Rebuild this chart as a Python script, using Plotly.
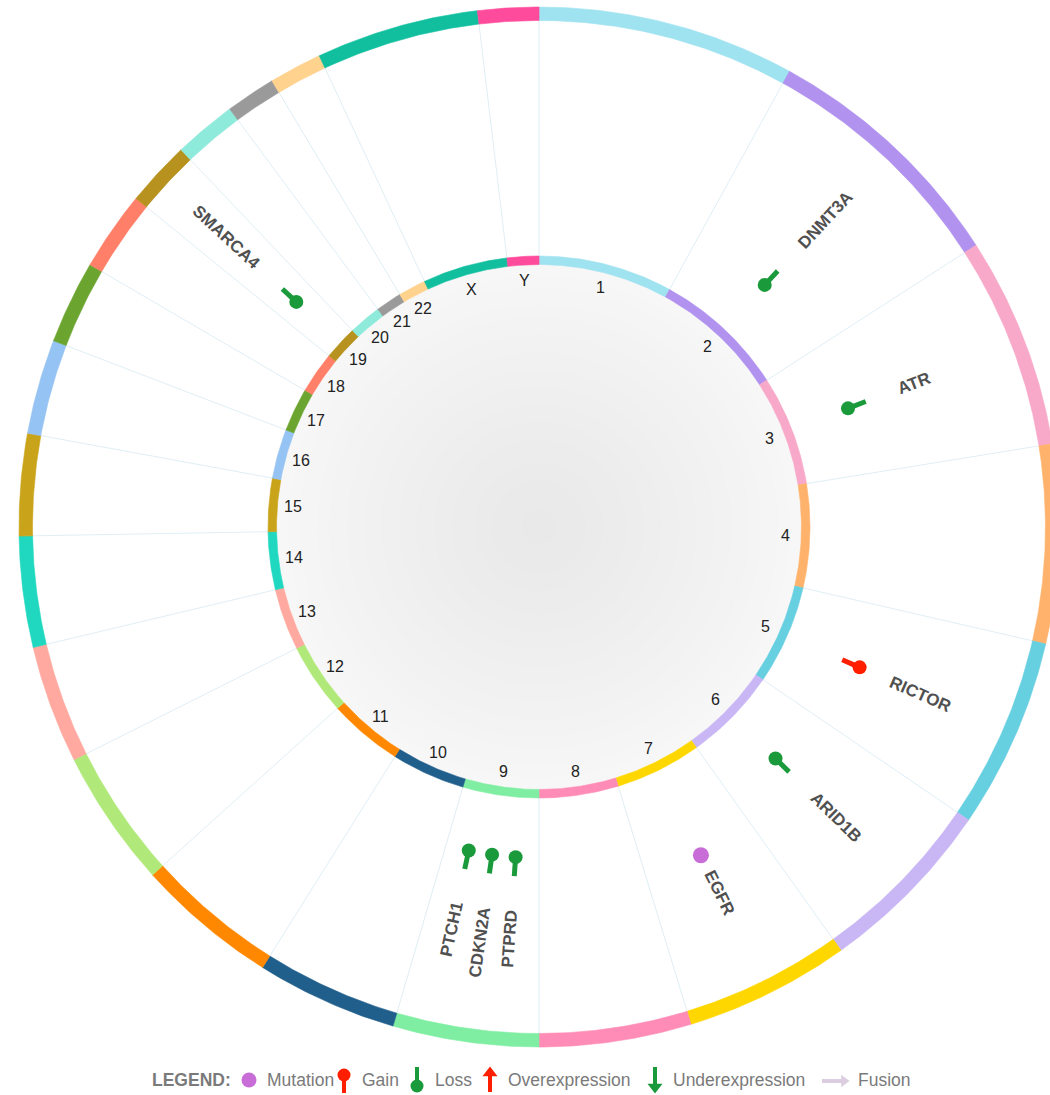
import math
import plotly.graph_objects as go

# ---- genome: chromosome sizes (Mb) ----
chromosomes = ["1", "2", "3", "4", "5", "6", "7", "8", "9", "10", "11", "12",
               "13", "14", "15", "16", "17", "18", "19", "20", "21", "22", "X", "Y"]
chrom_length_mb = [247.6, 244.2, 202.9, 190.9, 183.2, 173.7, 159.1, 146.2,
                   140.2, 135.9, 136.7, 132.4, 113.5, 106.6, 98.0, 91.1,
                   80.0, 76.5, 62.8, 60.2, 48.2, 50.7, 156.5, 58.5]
chrom_colors = ["#9fe2f0", "#b192ef", "#f8a8c8", "#ffb26b", "#66cfe0", "#c9b7f5",
                "#ffd700", "#ff8cb6", "#80eea2", "#205e8c", "#ff8800", "#b0e979",
                "#ffa9a0", "#20d8bf", "#c9a41b", "#95c3f3", "#6ba530", "#ff7f68",
                "#b8921f", "#8eeada", "#9a9a9a", "#ffd28e", "#11bf9f", "#ff4b9b"]

# ---- altered genes ----
genes = ["DNMT3A", "ATR", "RICTOR", "ARID1B", "EGFR", "PTPRD", "CDKN2A", "PTCH1", "SMARCA4"]
gene_chrom = ["2", "3", "5", "6", "7", "9", "9", "9", "19"]
gene_pos_mb = [25.5, 142.2, 38.9, 157.1, 55.1, 8.3, 21.9, 98.2, 11.1]
gene_alteration = ["Loss", "Loss", "Gain", "Loss", "Mutation", "Loss", "Loss", "Loss", "Loss"]

alteration_colors = {"Mutation": "#c86dd7", "Gain": "#ff1f00", "Loss": "#1b9a3c",
                     "Overexpression": "#ff1f00", "Underexpression": "#1b9a3c",
                     "Fusion": "#dccde0"}
legend_items = ["Mutation", "Gain", "Loss", "Overexpression", "Underexpression", "Fusion"]

# ---- geometry (px, centre of the circle at CX, CY) ----
W, H = 1050, 1095
CX, CY = 539, 527
OUTER = (506.5, 520.0)
INNER = (262.5, 271.0)
CHR_LABEL_R = 247
STICK = (331, 350)
MUT_R = 366
GENE_LABEL_R = 384
SPREAD_DEG = 4.1


def pol(r, deg):
    a = math.radians(deg)
    return r * math.sin(a), r * math.cos(a)


def px(x, y):
    """screen pixel -> data coords"""
    return x - CX, CY - y


total = sum(chrom_length_mb)
starts, ends = [], []
acc = 0.0
for L in chrom_length_mb:
    starts.append(acc / total * 360)
    acc += L
    ends.append(acc / total * 360)
mids = {c: (s + e) / 2 for c, s, e in zip(chromosomes, starts, ends)}

fig = go.Figure()

# ---- shaded centre disc ----
shapes = []
n_disc = 45
for i in range(n_disc):
    r = INNER[0] * (1 - i / n_disc)
    t = r / INNER[0]
    g = int(round(233 + 14 * t ** 1.3))
    shapes.append(dict(type="circle", xref="x", yref="y", x0=-r, x1=r, y0=-r, y1=r,
                       fillcolor=f"rgb({g},{g},{g})", line=dict(width=0), layer="below"))

# ---- radial separators between chromosomes ----
sx, sy = [], []
for s in starts:
    x0, y0 = pol(INNER[1], s)
    x1, y1 = pol(OUTER[0], s)
    sx += [x0, x1, None]
    sy += [y0, y1, None]
fig.add_trace(go.Scatter(x=sx, y=sy, mode="lines", line=dict(color="#e0eef5", width=1),
                         hoverinfo="skip"))


# ---- chromosome rings ----
def band(r0, r1, a0, a1):
    n = max(6, int((a1 - a0) * 3))
    angs = [a0 + (a1 - a0) * k / n for k in range(n + 1)]
    xs = [pol(r1, a)[0] for a in angs] + [pol(r0, a)[0] for a in reversed(angs)]
    ys = [pol(r1, a)[1] for a in angs] + [pol(r0, a)[1] for a in reversed(angs)]
    return xs + [xs[0]], ys + [ys[0]]


for c, s, e, col in zip(chromosomes, starts, ends, chrom_colors):
    for r0, r1 in (OUTER, INNER):
        xs, ys = band(r0, r1, s, e)
        fig.add_trace(go.Scatter(x=xs, y=ys, mode="lines", fill="toself", fillcolor=col,
                                 line=dict(color=col, width=0.6), hoverinfo="skip"))

annotations = []
for c in chromosomes:
    x, y = pol(CHR_LABEL_R, mids[c])
    annotations.append(dict(x=x, y=y, text=c, showarrow=False, xanchor="center",
                            yanchor="middle",
                            font=dict(family="Liberation Sans, Arial", size=16, color="#222222")))

# ---- gene angles: chromosome midpoint, spread when several share a chromosome ----
gene_angle = {}
for c in set(gene_chrom):
    members = sorted([i for i, gc in enumerate(gene_chrom) if gc == c], key=lambda i: gene_pos_mb[i])
    n = len(members)
    for k, i in enumerate(members):
        gene_angle[i] = mids[c] + (k - (n - 1) / 2) * SPREAD_DEG

BOLD_W = {"A": .722, "B": .722, "C": .722, "D": .722, "E": .667, "F": .611, "G": .778,
          "H": .722, "I": .278, "K": .722, "M": .833, "N": .722, "O": .778, "P": .667,
          "R": .722, "S": .667, "T": .611}
LABEL_SIZE = 17


def text_len(t):
    return sum(BOLD_W.get(ch, .556) for ch in t) * LABEL_SIZE


stick_x = {"Gain": [], "Loss": []}
stick_y = {"Gain": [], "Loss": []}
dot_x = {k: [] for k in ("Gain", "Loss", "Mutation")}
dot_y = {k: [] for k in ("Gain", "Loss", "Mutation")}

for i, g in enumerate(genes):
    a = gene_angle[i]
    kind = gene_alteration[i]
    if kind == "Mutation":
        x, y = pol(MUT_R, a)
        dot_x[kind].append(x)
        dot_y[kind].append(y)
    else:
        x0, y0 = pol(STICK[0], a)
        x1, y1 = pol(STICK[1], a)
        stick_x[kind] += [x0, x1, None]
        stick_y[kind] += [y0, y1, None]
        dx, dy = (x0, y0) if kind == "Loss" else (x1, y1)
        dot_x[kind].append(dx)
        dot_y[kind].append(dy)
    rc = GENE_LABEL_R + text_len(g) / 2
    lx, ly = pol(rc, a)
    ang = a - 90 if a < 180 else a - 270
    annotations.append(dict(x=lx, y=ly, text=g, showarrow=False, textangle=ang,
                            xanchor="center", yanchor="middle",
                            font=dict(family="Liberation Sans, Arial", size=LABEL_SIZE,
                                      color="#505050", weight="bold")))

for kind in ("Gain", "Loss"):
    fig.add_trace(go.Scatter(x=stick_x[kind], y=stick_y[kind], mode="lines",
                             line=dict(color=alteration_colors[kind], width=5), hoverinfo="skip"))
for kind, size in (("Gain", 14), ("Loss", 14), ("Mutation", 16)):
    fig.add_trace(go.Scatter(x=dot_x[kind], y=dot_y[kind], mode="markers",
                             marker=dict(color=alteration_colors[kind], size=size, line=dict(width=0)),
                             hoverinfo="skip"))

# ---- legend row ----
LEG_Y = 1080
leg_font = dict(family="Liberation Sans, Arial", size=17.5, color="#7a7a7a")
x, y = px(150, LEG_Y)
annotations.append(dict(x=x, y=y, text="<b>LEGEND:</b>", showarrow=False, xanchor="left",
                        yanchor="middle", font=leg_font))
icon_x = [249, 344, 417, 490, 655, 836]
text_x = [265, 360, 433, 506, 671, 856]
for item, ix, tx in zip(legend_items, icon_x, text_x):
    col = alteration_colors[item]
    if item == "Mutation":
        cx, cy = px(ix, LEG_Y)
        fig.add_trace(go.Scatter(x=[cx], y=[cy], mode="markers",
                                 marker=dict(color=col, size=15, line=dict(width=0)), hoverinfo="skip"))
    elif item in ("Gain", "Loss"):
        top, bot = (1075, 1093) if item == "Gain" else (1067, 1086)
        head = top if item == "Gain" else bot
        xs, ys = zip(px(ix, top), px(ix, bot))
        fig.add_trace(go.Scatter(x=list(xs), y=list(ys), mode="lines",
                                 line=dict(color=col, width=4), hoverinfo="skip"))
        hx, hy = px(ix, head)
        fig.add_trace(go.Scatter(x=[hx], y=[hy], mode="markers",
                                 marker=dict(color=col, size=13, line=dict(width=0)), hoverinfo="skip"))
    elif item in ("Overexpression", "Underexpression"):
        up = item == "Overexpression"
        tail, tip = (1092, 1074) if up else (1067, 1085)
        xs, ys = zip(px(ix, tail), px(ix, tip))
        fig.add_trace(go.Scatter(x=list(xs), y=list(ys), mode="lines",
                                 line=dict(color=col, width=4), hoverinfo="skip"))
        hx, hy = px(ix, 1073 if up else 1087)
        fig.add_trace(go.Scatter(x=[hx], y=[hy], mode="markers",
                                 marker=dict(color=col, size=13, line=dict(width=0),
                                             symbol="triangle-up" if up else "triangle-down"),
                                 hoverinfo="skip"))
    else:
        xs, ys = zip(px(ix - 14, LEG_Y + 1), px(ix + 6, LEG_Y + 1))
        fig.add_trace(go.Scatter(x=list(xs), y=list(ys), mode="lines",
                                 line=dict(color=col, width=4), hoverinfo="skip"))
        hx, hy = px(ix + 8, LEG_Y + 1)
        fig.add_trace(go.Scatter(x=[hx], y=[hy], mode="markers",
                                 marker=dict(color=col, size=11, line=dict(width=0),
                                             symbol="triangle-right"), hoverinfo="skip"))
    tx_, ty_ = px(tx, LEG_Y)
    annotations.append(dict(x=tx_, y=ty_, text=item, showarrow=False, xanchor="left",
                            yanchor="middle", font=leg_font))

fig.update_layout(
    width=W, height=H, margin=dict(l=0, r=0, t=0, b=0),
    paper_bgcolor="white", plot_bgcolor="white", showlegend=False, hovermode=False,
    xaxis=dict(range=[-CX, W - CX], visible=False, fixedrange=True),
    yaxis=dict(range=[CY - H, CY], visible=False, fixedrange=True),
    shapes=shapes, annotations=annotations,
)

fig.write_html("out.html")
